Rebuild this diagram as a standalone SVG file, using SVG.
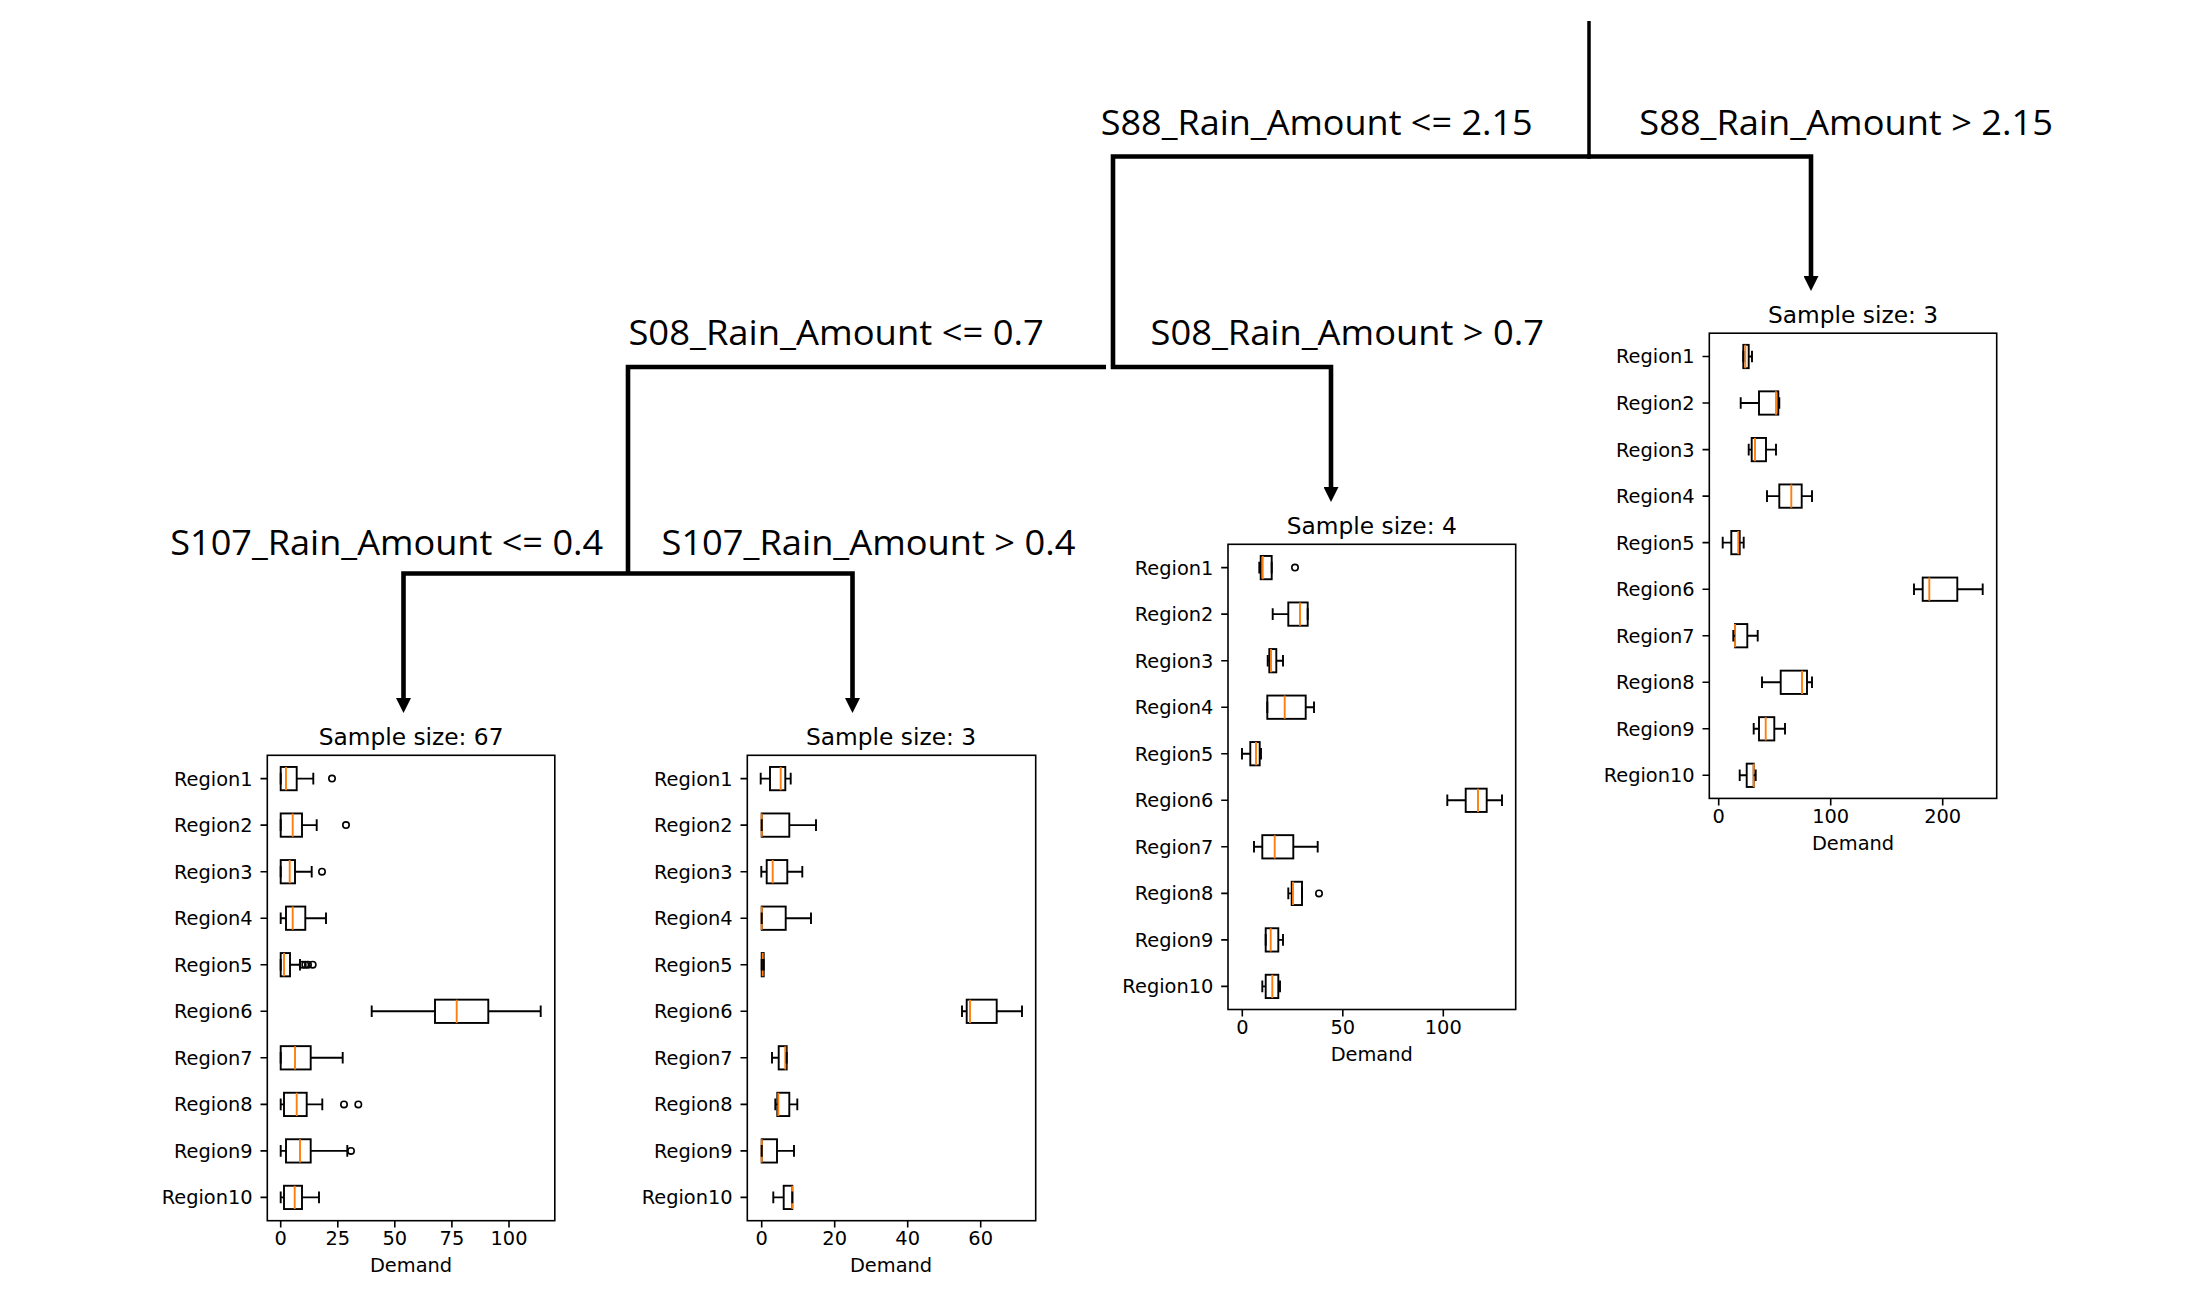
<svg xmlns="http://www.w3.org/2000/svg" xmlns:xlink="http://www.w3.org/1999/xlink" width="2198" height="1309" viewBox="0 0 2198 1309">
<style>
.conn{fill:none;stroke:#000;stroke-width:4.6;stroke-linejoin:miter}
.lbl{font-family:"Open Sans","Noto Sans","Liberation Sans",sans-serif;font-size:35px;fill:#000}
.ax{fill:none;stroke:#000;stroke-width:1.6}
.tm{fill:none;stroke:#000;stroke-width:1.6}
.wh{fill:none;stroke:#000;stroke-width:1.9}
.bx{fill:none;stroke:#000;stroke-width:1.9}
.md{fill:none;stroke:#ff7f0e;stroke-width:1.9}
.fl{fill:none;stroke:#000;stroke-width:1.6}
.tk{font-family:"DejaVu Sans","Liberation Sans",sans-serif;font-size:19.4px;fill:#000}
.yl{text-anchor:end}
.xl{text-anchor:middle}
.ttl{font-family:"DejaVu Sans","Liberation Sans",sans-serif;font-size:23.3px;fill:#000;text-anchor:middle}
</style>
<defs>
<marker id="arr" markerUnits="userSpaceOnUse" viewBox="0 0 15 15" markerWidth="15" markerHeight="15" refX="0" refY="7.5" orient="auto"><path d="M0,0 L15,7.5 L0,15 z" fill="#000"/></marker>
<path id="yticks" class="tm" d="M-6.8,23.3H0 M-6.8,69.8H0 M-6.8,116.4H0 M-6.8,162.9H0 M-6.8,209.4H0 M-6.8,256H0 M-6.8,302.5H0 M-6.8,349.1H0 M-6.8,395.6H0 M-6.8,442.1H0"/>
</defs>
<rect width="2198" height="1309" fill="#fff"/>

<g id="connectors">
<path class="conn" style="stroke-width:3.5" d="M1589,21 V156.5"/>
<path class="conn" d="M1591,156.5 H1113 V369"/>
<path class="conn" d="M1587,156.5 H1811 V276" marker-end="url(#arr)"/>
<path class="conn" d="M1106,367 H628 V573.5"/>
<path class="conn" d="M1111,367 H1331 V487" marker-end="url(#arr)"/>
<path class="conn" d="M628,573.5 H403.5 V698" marker-end="url(#arr)"/>
<path class="conn" d="M628,573.5 H852.5 V698" marker-end="url(#arr)"/>
<text class="lbl" x="1100.7" y="135" textLength="432" lengthAdjust="spacingAndGlyphs">S88_Rain_Amount &lt;= 2.15</text>
<text class="lbl" x="1639.3" y="135" textLength="413.7" lengthAdjust="spacingAndGlyphs">S88_Rain_Amount &gt; 2.15</text>
<text class="lbl" x="628.4" y="345" textLength="415.5" lengthAdjust="spacingAndGlyphs">S08_Rain_Amount &lt;= 0.7</text>
<text class="lbl" x="1150.5" y="345" textLength="393.5" lengthAdjust="spacingAndGlyphs">S08_Rain_Amount &gt; 0.7</text>
<text class="lbl" x="170.2" y="555" textLength="433" lengthAdjust="spacingAndGlyphs">S107_Rain_Amount &lt;= 0.4</text>
<text class="lbl" x="661.5" y="555" textLength="414" lengthAdjust="spacingAndGlyphs">S107_Rain_Amount &gt; 0.4</text>
</g>

<g id="node-sample67" transform="translate(267.3,755.3)">
<text class="ttl" x="143.75" y="-10.5">Sample size: 67</text>
<use xlink:href="#yticks"/>
<path class="tm" d="M13.4,465.4v6.8 M70.5,465.4v6.8 M127.5,465.4v6.8 M184.6,465.4v6.8 M241.7,465.4v6.8"/>
<g class="tk yl"><text x="-14.6" y="30.3">Region1</text><text x="-14.6" y="76.8">Region2</text><text x="-14.6" y="123.4">Region3</text><text x="-14.6" y="169.9">Region4</text><text x="-14.6" y="216.4">Region5</text><text x="-14.6" y="263">Region6</text><text x="-14.6" y="309.5">Region7</text><text x="-14.6" y="356.1">Region8</text><text x="-14.6" y="402.6">Region9</text><text x="-14.6" y="449.1">Region10</text></g>
<g class="tk xl"><text x="13.4" y="490">0</text><text x="70.5" y="490">25</text><text x="127.5" y="490">50</text><text x="184.6" y="490">75</text><text x="241.7" y="490">100</text><text x="143.75" y="517">Demand</text></g>
<g class="bx"><rect x="13.4" y="11.65" width="16" height="23.3"/><rect x="13.4" y="58.15" width="21.3" height="23.3"/><rect x="13.4" y="104.75" width="14.3" height="23.3"/><rect x="18.7" y="151.25" width="19.3" height="23.3"/><rect x="13.4" y="197.75" width="9.3" height="23.3"/><rect x="167.7" y="244.35" width="53.3" height="23.3"/><rect x="13.4" y="290.85" width="30" height="23.3"/><rect x="16.7" y="337.45" width="22.7" height="23.3"/><rect x="18.7" y="383.95" width="24.7" height="23.3"/><rect x="16.7" y="430.45" width="18" height="23.3"/></g>
<path class="md" d="M18.7,11.65v23.3 M25.4,58.15v23.3 M22.4,104.75v23.3 M25.4,151.25v23.3 M16.7,197.75v23.3 M189.4,244.35v23.3 M27.7,290.85v23.3 M29.4,337.45v23.3 M32.7,383.95v23.3 M27.4,430.45v23.3"/>
<path class="wh" d="M29.4,23.3H46 M13.4,17.5v11.6 M46,17.5v11.6 M34.7,69.8H49.4 M13.4,64v11.6 M49.4,64v11.6 M27.7,116.4H44.4 M13.4,110.6v11.6 M44.4,110.6v11.6 M13.4,162.9H18.7 M38,162.9H58.7 M13.4,157.1v11.6 M58.7,157.1v11.6 M22.7,209.4H32.7 M13.4,203.6v11.6 M32.7,203.6v11.6 M104.4,256H167.7 M221,256H273.4 M104.4,250.2v11.6 M273.4,250.2v11.6 M43.4,302.5H75.4 M13.4,296.7v11.6 M75.4,296.7v11.6 M13.4,349.1H16.7 M39.4,349.1H55 M13.4,343.3v11.6 M55,343.3v11.6 M13.4,395.6H18.7 M43.4,395.6H80 M13.4,389.8v11.6 M80,389.8v11.6 M13.4,442.1H16.7 M34.7,442.1H51.7 M13.4,436.3v11.6 M51.7,436.3v11.6"/>
<g class="fl"><circle cx="64.7" cy="23.3" r="3.2"/><circle cx="78.7" cy="69.8" r="3.2"/><circle cx="54.7" cy="116.4" r="3.2"/><circle cx="35.4" cy="209.4" r="3.2"/><circle cx="38" cy="209.4" r="3.2"/><circle cx="40.7" cy="209.4" r="3.2"/><circle cx="45.4" cy="209.4" r="3.2"/><circle cx="76.7" cy="349.1" r="3.2"/><circle cx="91" cy="349.1" r="3.2"/><circle cx="83.7" cy="395.6" r="3.2"/></g>
<rect class="ax" x="0" y="0" width="287.5" height="465.4"/>
</g>

<g id="node-sample3-left" transform="translate(747.3,755.3)">
<text class="ttl" x="143.75" y="-10.5">Sample size: 3</text>
<use xlink:href="#yticks"/>
<path class="tm" d="M14.4,465.4v6.8 M87.4,465.4v6.8 M160.4,465.4v6.8 M233.4,465.4v6.8"/>
<g class="tk yl"><text x="-14.6" y="30.3">Region1</text><text x="-14.6" y="76.8">Region2</text><text x="-14.6" y="123.4">Region3</text><text x="-14.6" y="169.9">Region4</text><text x="-14.6" y="216.4">Region5</text><text x="-14.6" y="263">Region6</text><text x="-14.6" y="309.5">Region7</text><text x="-14.6" y="356.1">Region8</text><text x="-14.6" y="402.6">Region9</text><text x="-14.6" y="449.1">Region10</text></g>
<g class="tk xl"><text x="14.4" y="490">0</text><text x="87.4" y="490">20</text><text x="160.4" y="490">40</text><text x="233.4" y="490">60</text><text x="143.75" y="517">Demand</text></g>
<g class="bx"><rect x="22.7" y="11.65" width="15.3" height="23.3"/><rect x="14.4" y="58.15" width="27.6" height="23.3"/><rect x="19.4" y="104.75" width="20.6" height="23.3"/><rect x="14.4" y="151.25" width="24" height="23.3"/><rect x="14.4" y="197.75" width="2" height="23.3"/><rect x="219.4" y="244.35" width="30" height="23.3"/><rect x="31.4" y="290.85" width="8" height="23.3"/><rect x="30" y="337.45" width="12" height="23.3"/><rect x="14.4" y="383.95" width="15.3" height="23.3"/><rect x="36.4" y="430.45" width="8.6" height="23.3"/></g>
<path class="md" d="M33.4,11.65v23.3 M14.4,58.15v23.3 M25.4,104.75v23.3 M14.4,151.25v23.3 M15.4,197.75v23.3 M222.7,244.35v23.3 M38,290.85v23.3 M31,337.45v23.3 M14.4,383.95v23.3 M45,430.45v23.3"/>
<path class="wh" d="M13.4,23.3H22.7 M38,23.3H43.4 M13.4,17.5v11.6 M43.4,17.5v11.6 M42,69.8H68.7 M14.4,64v11.6 M68.7,64v11.6 M14,116.4H19.4 M40,116.4H55 M14,110.6v11.6 M55,110.6v11.6 M38.4,162.9H63.7 M14.4,157.1v11.6 M63.7,157.1v11.6 M14.4,203.6v11.6 M16.4,203.6v11.6 M214.7,256H219.4 M249.4,256H274.7 M214.7,250.2v11.6 M274.7,250.2v11.6 M24.7,302.5H31.4 M24.7,296.7v11.6 M39.4,296.7v11.6 M28,349.1H30 M42,349.1H50 M28,343.3v11.6 M50,343.3v11.6 M29.7,395.6H46.7 M14.4,389.8v11.6 M46.7,389.8v11.6 M26,442.1H36.4 M26,436.3v11.6 M45,436.3v11.6"/>
<rect class="ax" x="0" y="0" width="288.4" height="465.4"/>
</g>

<g id="node-sample4" transform="translate(1228,544.3)">
<text class="ttl" x="143.75" y="-10.5">Sample size: 4</text>
<use xlink:href="#yticks"/>
<path class="tm" d="M14.3,465.4v6.8 M114.8,465.4v6.8 M215.3,465.4v6.8"/>
<g class="tk yl"><text x="-14.6" y="30.3">Region1</text><text x="-14.6" y="76.8">Region2</text><text x="-14.6" y="123.4">Region3</text><text x="-14.6" y="169.9">Region4</text><text x="-14.6" y="216.4">Region5</text><text x="-14.6" y="263">Region6</text><text x="-14.6" y="309.5">Region7</text><text x="-14.6" y="356.1">Region8</text><text x="-14.6" y="402.6">Region9</text><text x="-14.6" y="449.1">Region10</text></g>
<g class="tk xl"><text x="14.3" y="490">0</text><text x="114.8" y="490">50</text><text x="215.3" y="490">100</text><text x="143.75" y="517">Demand</text></g>
<g class="bx"><rect x="32.7" y="11.65" width="11" height="23.3"/><rect x="60.3" y="58.15" width="19.4" height="23.3"/><rect x="41.3" y="104.75" width="7" height="23.3"/><rect x="39.3" y="151.25" width="38.4" height="23.3"/><rect x="22.3" y="197.75" width="9.4" height="23.3"/><rect x="237.7" y="244.35" width="21" height="23.3"/><rect x="34.3" y="290.85" width="31" height="23.3"/><rect x="63.7" y="337.45" width="10.3" height="23.3"/><rect x="37.7" y="383.95" width="12.6" height="23.3"/><rect x="37.7" y="430.45" width="12.6" height="23.3"/></g>
<path class="md" d="M34.7,11.65v23.3 M72,58.15v23.3 M43,104.75v23.3 M56.7,151.25v23.3 M28,197.75v23.3 M250,244.35v23.3 M46.7,290.85v23.3 M65,337.45v23.3 M42.7,383.95v23.3 M44.3,430.45v23.3"/>
<path class="wh" d="M31.3,23.3H32.7 M31.3,17.5v11.6 M43.7,17.5v11.6 M44.7,69.8H60.3 M44.7,64v11.6 M79.7,64v11.6 M39.7,116.4H41.3 M48.3,116.4H55 M39.7,110.6v11.6 M55,110.6v11.6 M77.7,162.9H86 M39.3,157.1v11.6 M86,157.1v11.6 M14,209.4H22.3 M31.7,209.4H33 M14,203.6v11.6 M33,203.6v11.6 M219.3,256H237.7 M258.7,256H274 M219.3,250.2v11.6 M274,250.2v11.6 M26,302.5H34.3 M65.3,302.5H89.7 M26,296.7v11.6 M89.7,296.7v11.6 M60.3,349.1H63.7 M60.3,343.3v11.6 M74,343.3v11.6 M50.3,395.6H55 M37.7,389.8v11.6 M55,389.8v11.6 M34.3,442.1H37.7 M50.3,442.1H52 M34.3,436.3v11.6 M52,436.3v11.6"/>
<g class="fl"><circle cx="67" cy="23.3" r="3.2"/><circle cx="91" cy="349.1" r="3.2"/></g>
<rect class="ax" x="0" y="0" width="287.7" height="465.2"/>
</g>

<g id="node-sample3-right" transform="translate(1709.3,333.2)">
<text class="ttl" x="143.75" y="-10.5">Sample size: 3</text>
<use xlink:href="#yticks"/>
<path class="tm" d="M9.4,465.4v6.8 M121.4,465.4v6.8 M233.4,465.4v6.8"/>
<g class="tk yl"><text x="-14.6" y="30.3">Region1</text><text x="-14.6" y="76.8">Region2</text><text x="-14.6" y="123.4">Region3</text><text x="-14.6" y="169.9">Region4</text><text x="-14.6" y="216.4">Region5</text><text x="-14.6" y="263">Region6</text><text x="-14.6" y="309.5">Region7</text><text x="-14.6" y="356.1">Region8</text><text x="-14.6" y="402.6">Region9</text><text x="-14.6" y="449.1">Region10</text></g>
<g class="tk xl"><text x="9.4" y="490">0</text><text x="121.4" y="490">100</text><text x="233.4" y="490">200</text><text x="143.75" y="517">Demand</text></g>
<g class="bx"><rect x="34" y="11.65" width="5.4" height="23.3"/><rect x="49.7" y="58.15" width="19.3" height="23.3"/><rect x="42.4" y="104.75" width="14.3" height="23.3"/><rect x="70" y="151.25" width="22.4" height="23.3"/><rect x="22" y="197.75" width="8.4" height="23.3"/><rect x="213.4" y="244.35" width="34.6" height="23.3"/><rect x="25.7" y="290.85" width="12.3" height="23.3"/><rect x="71.4" y="337.45" width="26.3" height="23.3"/><rect x="49.7" y="383.95" width="15.3" height="23.3"/><rect x="37.4" y="430.45" width="7" height="23.3"/></g>
<path class="md" d="M36,11.65v23.3 M66.7,58.15v23.3 M45.7,104.75v23.3 M82,151.25v23.3 M29,197.75v23.3 M220,244.35v23.3 M25.7,290.85v23.3 M92.7,337.45v23.3 M56.4,383.95v23.3 M44.4,430.45v23.3"/>
<path class="wh" d="M39.4,23.3H42.7 M34,17.5v11.6 M42.7,17.5v11.6 M31.4,69.8H49.7 M69,69.8H70 M31.4,64v11.6 M70,64v11.6 M39.4,116.4H42.4 M56.7,116.4H66.7 M39.4,110.6v11.6 M66.7,110.6v11.6 M57.7,162.9H70 M92.4,162.9H102.7 M57.7,157.1v11.6 M102.7,157.1v11.6 M13.4,209.4H22 M30.4,209.4H34.4 M13.4,203.6v11.6 M34.4,203.6v11.6 M204.7,256H213.4 M248,256H273.4 M204.7,250.2v11.6 M273.4,250.2v11.6 M24,302.5H25.7 M38,302.5H48.4 M24,296.7v11.6 M48.4,296.7v11.6 M52.7,349.1H71.4 M97.7,349.1H102.7 M52.7,343.3v11.6 M102.7,343.3v11.6 M44.4,395.6H49.7 M65,395.6H75.7 M44.4,389.8v11.6 M75.7,389.8v11.6 M30.4,442.1H37.4 M44.4,442.1H46.4 M30.4,436.3v11.6 M46.4,436.3v11.6"/>
<rect class="ax" x="0" y="0" width="287.4" height="465.2"/>
</g>
</svg>
